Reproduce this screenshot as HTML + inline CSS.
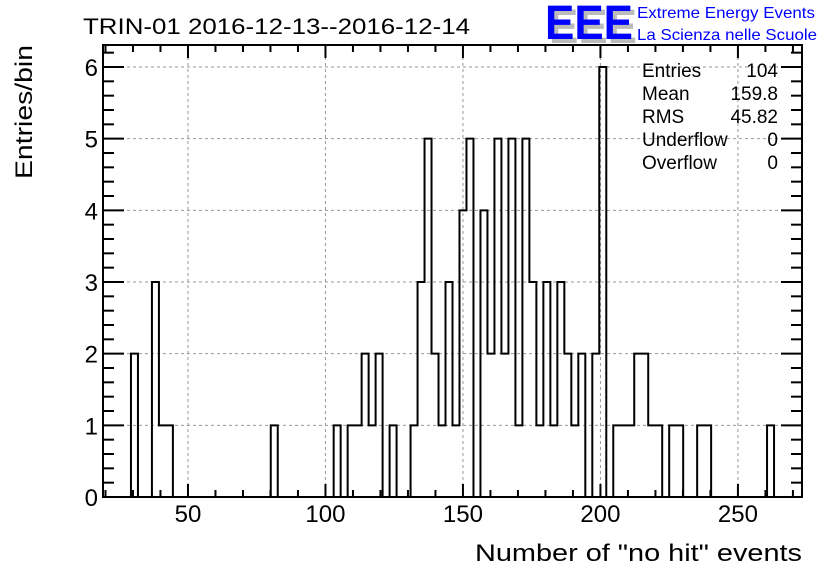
<!DOCTYPE html>
<html><head><meta charset="utf-8">
<style>
body{margin:0;background:#fff;}
svg{display:block;font-family:"Liberation Sans",Arial,sans-serif;}
</style></head>
<body>
<svg id="chart" width="836" height="572" viewBox="0 0 836 572" xmlns="http://www.w3.org/2000/svg">
<rect width="836" height="572" fill="#fff"/>
<text x="83" y="34" font-size="22" fill="#000" textLength="387" lengthAdjust="spacingAndGlyphs">TRIN-01 2016-12-13--2016-12-14</text>
<g>
<text x="549" y="43" font-size="48" font-weight="bold" fill="#bbb" textLength="88" lengthAdjust="spacingAndGlyphs">EEE</text>
<text x="545" y="39" font-size="48" font-weight="bold" fill="#0000ff" textLength="88" lengthAdjust="spacingAndGlyphs">EEE</text>
<text x="637" y="18" font-size="16" fill="#0000ff" textLength="178" lengthAdjust="spacingAndGlyphs">Extreme Energy Events</text>
<text x="637" y="40" font-size="16" fill="#0000ff" textLength="180" lengthAdjust="spacingAndGlyphs">La Scienza nelle Scuole</text>
</g>
<g id="grid"></g>
<g id="ticks"></g>
<path id="hist" fill="none" stroke="#000" stroke-width="2"/>
<rect x="103" y="45" width="699" height="452" fill="none" stroke="#000" stroke-width="2"/>
<g id="labels"></g>
<text x="802" y="561" font-size="24" text-anchor="end" textLength="327" lengthAdjust="spacingAndGlyphs">Number of "no hit" events</text>
<text transform="translate(32,45) rotate(-90)" font-size="24" text-anchor="end" textLength="134" lengthAdjust="spacingAndGlyphs">Entries/bin</text>
<g font-size="19">
<text x="642" y="77">Entries</text><text x="778" y="77" text-anchor="end">104</text>
<text x="642" y="100">Mean</text><text x="778" y="100" text-anchor="end">159.8</text>
<text x="642" y="123">RMS</text><text x="778" y="123" text-anchor="end">45.82</text>
<text x="642" y="146">Underflow</text><text x="778" y="146" text-anchor="end">0</text>
<text x="642" y="169">Overflow</text><text x="778" y="169" text-anchor="end">0</text>
</g>
</svg>
<script>
const xMin = 19.1, xMax = 273.3, nBins = 100;
const binIndex = [4,7,8,9,24,33,35,36,37,38,39,41,44,45,46,47,48,49,50,51,52,54,55,56,57,58,59,60,61,62,63,64,65,66,67,68,70,71,73,74,75,76,77,78,79,81,82,85,86,95];
const binCount = [2,3,1,1,1,1,1,1,2,1,2,1,1,3,5,2,1,3,1,4,5,4,2,5,2,5,1,5,3,1,3,1,3,2,1,2,2,6,1,1,1,2,2,1,1,1,1,1,1,1];
const xTickValues = [50,100,150,200,250];
const yTickValues = [0,1,2,3,4,5,6];
const yMax = 6.3;
const L=103,R=802,T=45,B=497;
const ns="http://www.w3.org/2000/svg";
const sx=v=>L+(v-xMin)/(xMax-xMin)*(R-L);
const sy=v=>B-(v/6)*(B-67);
const counts=new Array(nBins).fill(0);
binIndex.forEach((b,i)=>counts[b]=binCount[i]);
const bw=(xMax-xMin)/nBins;
let d="M"+sx(xMin)+","+sy(0);
for(let i=0;i<nBins;i++){
  const x0=sx(xMin+i*bw), x1=sx(xMin+(i+1)*bw), y=sy(counts[i]);
  d+=" L"+x0.toFixed(2)+","+y.toFixed(2)+" L"+x1.toFixed(2)+","+y.toFixed(2);
}
d+=" L"+sx(xMax)+","+sy(0);
document.getElementById('hist').setAttribute('d',d);
const grid=document.getElementById('grid'), ticks=document.getElementById('ticks'), labels=document.getElementById('labels');
function line(p,x1,y1,x2,y2,extra){const l=document.createElementNS(ns,'line');l.setAttribute('x1',x1);l.setAttribute('y1',y1);l.setAttribute('x2',x2);l.setAttribute('y2',y2);l.setAttribute('stroke',extra?'#999':'#000');l.setAttribute('stroke-width',extra?1:2);if(extra)l.setAttribute('stroke-dasharray','3,3');p.appendChild(l);return l;}
xTickValues.forEach(v=>{
  const g=line(grid,sx(v),T,sx(v),B,true);
  
  
  const t=document.createElementNS(ns,'text');
  t.setAttribute('x',sx(v));t.setAttribute('y',522);t.setAttribute('font-size','24');t.setAttribute('text-anchor','middle');
  t.textContent=v;
  
  
  labels.appendChild(t);
});
for(let v=20;v<=270;v+=10){
  const len=(v%50===0)?13:7;
  line(ticks,sx(v),B,sx(v),B-len);
  line(ticks,sx(v),T,sx(v),T+len);
}
yTickValues.forEach(v=>{
  if(v>0){const g=line(grid,L,sy(v),R,sy(v),true);
  
  }
  const t=document.createElementNS(ns,'text');
  t.setAttribute('x',98);t.setAttribute('y',sy(v)+9);t.setAttribute('font-size','24');t.setAttribute('text-anchor','end');
  t.textContent=v;
  
  
  labels.appendChild(t);
});
for(let k=0;k<=31;k++){
  const v=k*0.2; if(v>yMax)break;
  const len=(k%5===0)?21:11;
  line(ticks,L,sy(v),L+len,sy(v));
  line(ticks,R,sy(v),R-len,sy(v));
}
</script>
</body></html>
